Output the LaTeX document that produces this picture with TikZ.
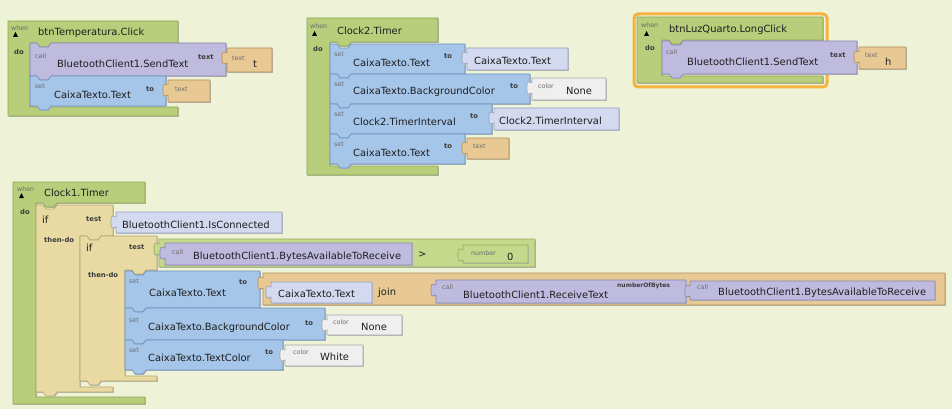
\documentclass[tikz,border=0pt]{standalone}
\usepackage{fontspec}
\setmainfont{DejaVu Sans}
\usetikzlibrary{positioning}
\definecolor{Paper}{HTML}{EEF3D8}
\definecolor{Ink}{HTML}{1E1E1E}
\definecolor{Quiet}{HTML}{6A6A6A}
\definecolor{KwInk}{HTML}{3C3C3C}
\definecolor{evtfill}{HTML}{B8CE7B}
\definecolor{evtline}{HTML}{8CA450}
\definecolor{callfill}{HTML}{BFBBDF}
\definecolor{callline}{HTML}{8783AD}
\definecolor{setfill}{HTML}{A5C5E9}
\definecolor{setline}{HTML}{6D91BB}
\definecolor{txtfill}{HTML}{E8C994}
\definecolor{txtline}{HTML}{B18F58}
\definecolor{getfill}{HTML}{D3D9EF}
\definecolor{getline}{HTML}{979FC0}
\definecolor{colfill}{HTML}{EFEFEF}
\definecolor{colline}{HTML}{A6A6A6}
\definecolor{iffill}{HTML}{E9DAA4}
\definecolor{ifline}{HTML}{B5A36A}
\definecolor{cmpfill}{HTML}{C5D98D}
\definecolor{cmpline}{HTML}{94AA5C}
\definecolor{glow}{HTML}{F5B23E}
\tikzset{
  blk/.style={line width=.6pt,line join=round,
    preaction={fill=black!28,transform canvas={shift={(.9pt,-.9pt)}}}},
  evtb/.style={blk,fill=evtfill,draw=evtline},
  callb/.style={blk,fill=callfill,draw=callline},
  setb/.style={blk,fill=setfill,draw=setline},
  txtb/.style={blk,fill=txtfill,draw=txtline},
  getb/.style={blk,fill=getfill,draw=getline},
  colb/.style={blk,fill=colfill,draw=colline},
  ifb/.style={blk,fill=iffill,draw=ifline},
  cmpb/.style={blk,fill=cmpfill,draw=cmpline},
  nm/.style={anchor=west,inner sep=0pt,text=Ink,font=\fontsize{9.9}{11}\selectfont},
  sm/.style={anchor=west,inner sep=0pt,text=Quiet,font=\fontsize{6.3}{7}\selectfont},
  kw/.style={anchor=west,inner sep=0pt,text=KwInk,font=\fontsize{6.8}{8}\selectfont\bfseries},
  tri/.style={fill=black},
}
% statement block: style, x1, y1, x2, y2 (notch on top, tab below)
\newcommand{\stmt}[5]{%
  \filldraw[#1] (#2,#3) -- ++(7,0) -- ++(3,4) -- ++(8,0) -- ++(3,-4) -- (#4,#3)
    -- (#4,#5) -- (#2+21,#5) -- ++(-3,4) -- ++(-8,0) -- ++(-3,-4) -- (#2,#5) -- cycle;}
% value block with plug on the left
\newcommand{\valblk}[5]{%
  \filldraw[#1] (#2,#3) -- (#4,#3) -- (#4,#5) -- (#2,#5) -- (#2,#3+15)
    -- (#2-4,#3+16) -- (#2-5,#3+13) -- (#2-5,#3+7) -- (#2-4,#3+4) -- (#2,#3+5) -- cycle;}
% event block: style, x0, y0, xr, yh, xi, yb, ye
\newcommand{\hatblk}[8]{%
  \filldraw[#1] (#2,#3) -- (#4,#3) -- (#4,#5) -- (#6+21,#5) -- ++(-3,4) -- ++(-8,0)
    -- ++(-3,-4) -- (#6,#5) -- (#6,#7) -- (#4,#7) -- (#4,#8) -- (#2,#8) -- cycle;}
% if block: style, x0, y0, xr, yh, xi, yb, xr2, ye
\newcommand{\ifblk}[9]{%
  \filldraw[#1] (#2,#3) -- ++(7,0) -- ++(3,4) -- ++(8,0) -- ++(3,-4) -- (#4,#3)
    -- (#4,#5) -- (#6+21,#5) -- ++(-3,4) -- ++(-8,0) -- ++(-3,-4) -- (#6,#5)
    -- (#6,#7) -- (#8,#7) -- (#8,#9) -- (#2+21,#9) -- ++(-3,4) -- ++(-8,0)
    -- ++(-3,-4) -- (#2,#9) -- cycle;}

\begin{document}
\begin{tikzpicture}[x=1pt,y=-1pt]
\path[use as bounding box] (0,0) rectangle (952,409);
\fill[Paper] (0,0) rectangle (952,409);

% btnTemperatura.Click
\hatblk{evtb}{8}{21}{178}{43}{30}{107}{116}
\stmt{callb}{30}{43}{226}{76}
\valblk{txtb}{227}{48}{272}{72}
\stmt{setb}{30}{76}{166}{106}
\valblk{txtb}{168}{80}{210}{102}
\node[sm] (whenA) at (11,28) {when};
\fill[tri] (13,37) -- (18,37) -- (15.5,32) -- cycle;
\node[nm] (evA) at (38,33) {btnTemperatura.Click};
\node[kw] (doA) at (14,52) {do};
\node[sm] (callA) at (35,56) {call};
\node[nm] (sendA) at (57,64) {BluetoothClient1.SendText};
\node[kw] (argA) at (198,57) {text};
\node[sm] (tlA) at (232,58) {text};
\node[nm] (tA) at (253,64) {t};
\node[sm] (setA) at (35,86) {set};
\node[nm] (caixaA) at (54,95) {CaixaTexto.Text};
\node[kw] (toA) at (146,89) {to};
\node[sm] (tlA2) at (175,89) {text};

% Clock2.Timer
\hatblk{evtb}{307}{18}{438}{42}{330}{166}{175}
\stmt{setb}{330}{44}{465}{74}
\valblk{getb}{467}{48}{568}{70}
\stmt{setb}{330}{74}{530}{104}
\valblk{colb}{532}{78}{606}{100}
\stmt{setb}{330}{104}{492}{134}
\valblk{getb}{494}{108}{619}{130}
\stmt{setb}{330}{134}{465}{164}
\valblk{txtb}{467}{138}{509}{159}
\node[sm] (whenB) at (310,26) {when};
\fill[tri] (312,36) -- (317,36) -- (314.5,31) -- cycle;
\node[nm] (evB) at (337,31) {Clock2.Timer};
\node[kw] (doB) at (313,49) {do};
\node[sm] (setB1) at (334,54) {set};
\node[nm] (caixaB1) at (353,63) {CaixaTexto.Text};
\node[kw] (toB1) at (444,56) {to};
\node[nm] (getB1) at (474,61) {CaixaTexto.Text};
\node[sm] (setB2) at (334,84) {set};
\node[nm] (caixaB2) at (353,92) {CaixaTexto.BackgroundColor};
\node[kw] (toB2) at (510,86) {to};
\node[sm] (colB2) at (538,86) {color};
\node[nm] (noneB) at (566,91) {None};
\node[sm] (setB3) at (334,114) {set};
\node[nm] (clockB3) at (353,122) {Clock2.TimerInterval};
\node[kw] (toB3) at (470,116) {to};
\node[nm] (getB3) at (499,121) {Clock2.TimerInterval};
\node[sm] (setB4) at (334,144) {set};
\node[nm] (caixaB4) at (353,153) {CaixaTexto.Text};
\node[kw] (toB4) at (444,146) {to};
\node[sm] (tlB4) at (473,146) {text};

% btnLuzQuarto.LongClick (selected)
\draw[glow,line width=3pt,rounded corners=4pt] (634,14) rectangle (827,87);
\hatblk{evtb}{637}{17}{823}{40}{662}{76}{83}
\stmt{callb}{662}{41}{857}{74}
\valblk{txtb}{859}{47}{906}{69}
\node[sm] (whenC) at (641,25) {when};
\fill[tri] (644,36) -- (649,36) -- (646.5,31) -- cycle;
\node[nm] (evC) at (669,30) {btnLuzQuarto.LongClick};
\node[kw] (doC) at (645,48) {do};
\node[sm] (callC) at (666,52) {call};
\node[nm] (sendC) at (687,62) {BluetoothClient1.SendText};
\node[kw] (argC) at (830,55) {text};
\node[sm] (tlC) at (865,55) {text};
\node[nm] (hC) at (885,62) {h};

% Clock1.Timer
\hatblk{evtb}{13}{182}{145}{203}{36}{397}{404}
\ifblk{ifb}{36}{205}{113}{236}{80}{387}{113}{392}
\valblk{getb}{116}{212}{282}{233}
\ifblk{ifb}{80}{236}{157}{270}{125}{376}{157}{381}
\valblk{cmpb}{159}{239}{535}{267}
\valblk{callb}{165}{243}{412}{265}
\valblk{cmpb}{463}{245}{528}{263}
\stmt{setb}{125}{271}{260}{308}
\valblk{txtb}{263}{273}{945}{305}
\valblk{getb}{271}{282}{372}{303}
\valblk{callb}{436}{280}{686}{303}
\valblk{callb}{690}{281}{935}{300}
\stmt{setb}{125}{308}{325}{340}
\valblk{colb}{327}{315}{402}{335}
\stmt{setb}{125}{340}{283}{370}
\valblk{colb}{285}{345}{363}{366}
\node[sm] (whenD) at (17,189) {when};
\fill[tri] (19,198) -- (24,198) -- (21.5,193) -- cycle;
\node[nm] (evD) at (44,193) {Clock1.Timer};
\node[kw] (doD) at (20,212) {do};
\node[nm] (ifD1) at (42,220) {if};
\node[kw] (testD1) at (86,219) {test};
\node[kw] (thenD1) at (44,240) {then-do};
\node[nm] (connD) at (122,225) {BluetoothClient1.IsConnected};
\node[nm] (ifD2) at (86,248) {if};
\node[kw] (testD2) at (129,247) {test};
\node[kw] (thenD2) at (88,275) {then-do};
\node[sm] (callD1) at (172,252) {call};
\node[nm] (bytesD1) at (193,257) {BluetoothClient1.BytesAvailableToReceive};
\node[nm] (gtD) at (418,255) {>};
\node[sm] (numD) at (471,253) {number};
\node[nm] (zeroD) at (507,257) {0};
\node[sm] (setD1) at (129,281) {set};
\node[nm] (caixaD1) at (149,293) {CaixaTexto.Text};
\node[kw] (toD1) at (239,282) {to};
\node[nm] (getD1) at (278,294) {CaixaTexto.Text};
\node[nm] (joinD) at (378,293) {join};
\node[sm] (callD2) at (442,287) {call};
\node[nm] (recvD) at (463,295) {BluetoothClient1.ReceiveText};
\node[kw,font=\fontsize{6}{7}\selectfont\bfseries] (nobD) at (617,286) {numberOfBytes};
\node[sm] (callD3) at (697,287) {call};
\node[nm] (bytesD2) at (718,293) {BluetoothClient1.BytesAvailableToReceive};
\node[sm] (setD2) at (129,320) {set};
\node[nm] (caixaD2) at (148,328) {CaixaTexto.BackgroundColor};
\node[kw] (toD2) at (305,323) {to};
\node[sm] (colD2) at (333,322) {color};
\node[nm] (noneD) at (361,327) {None};
\node[sm] (setD3) at (129,350) {set};
\node[nm] (caixaD3) at (148,358) {CaixaTexto.TextColor};
\node[kw] (toD3) at (265,352) {to};
\node[sm] (colD3) at (293,352) {color};
\node[nm] (whiteD) at (320,357) {White};
\end{tikzpicture}
\end{document}
